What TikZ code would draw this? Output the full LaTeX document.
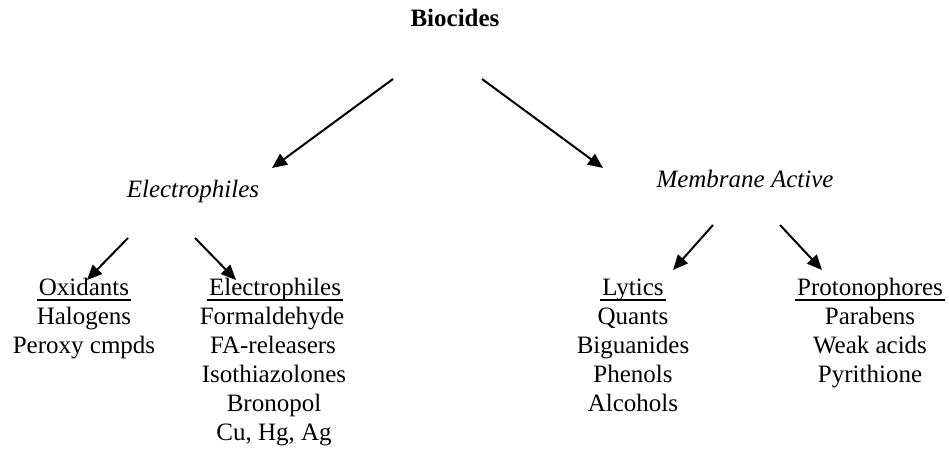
\documentclass[tikz,border=0pt]{standalone}
\usepackage{fontspec}
\setmainfont{Liberation Serif}
\usetikzlibrary{arrows.meta}
\begin{document}
\begin{tikzpicture}[x=1pt,y=-1pt,
  txt/.style={inner sep=0pt,anchor=base,font=\fontsize{25}{29}\selectfont},
  hdr/.style={txt},
  branch/.style={line width=2pt,-{Triangle[length=15pt,width=13pt]}},
  uline/.style={line width=1.6pt}]
\useasboundingbox (0,0) rectangle (949,452);

% top level
\node[txt,font=\fontsize{25}{29}\selectfont\bfseries] (bio) at (455,27) {Biocides};
\node[txt,font=\fontsize{25}{29}\selectfont\itshape] (elec) at (193,197) {Electrophiles};
\node[txt,font=\fontsize{25}{29}\selectfont\itshape] (memb) at (745,187) {Membrane Active};

% arrow ends
\coordinate (bioL) at (393,79);
\coordinate (elecT) at (272,168);
\coordinate (bioR) at (482,79);
\coordinate (membT) at (603,168);
\coordinate (elecL) at (128,238);
\coordinate (oxT) at (87,280);
\coordinate (elecR) at (195,238);
\coordinate (elT) at (236,280);
\coordinate (membL) at (713,225);
\coordinate (lyT) at (673,270);
\coordinate (membR) at (780,225);
\coordinate (prT) at (822,270);

\draw[branch] (bioL) -- (elecT);
\draw[branch] (bioR) -- (membT);
\draw[branch] (elecL) -- (oxT);
\draw[branch] (elecR) -- (elT);
\draw[branch] (membL) -- (lyT);
\draw[branch] (membR) -- (prT);

% column headers, underlined
\node[hdr] (ox) at (84,295) {Oxidants};
\node[hdr] (el) at (275,295) {Electrophiles};
\node[hdr] (ly) at (633,295) {Lytics};
\node[hdr] (pr) at (870,295) {Protonophores};
\foreach \h in {ox,el,ly,pr}
  \draw[uline] ([xshift=-2pt,yshift=-5pt]\h.base west) -- ([xshift=2pt,yshift=-5pt]\h.base east);

% column entries
\node[txt] (ox1) at (84,324) {Halogens};
\node[txt] (ox2) at (84,353) {Peroxy cmpds};

\node[txt] (el1) at (272,324) {Formaldehyde};
\node[txt] (el2) at (273,353) {FA-releasers};
\node[txt] (el3) at (274,382) {Isothiazolones};
\node[txt] (el4) at (274,411) {Bronopol};
\node[txt] (el5) at (274,440) {Cu, Hg, Ag};

\node[txt] (ly1) at (633,324) {Quants};
\node[txt] (ly2) at (633,353) {Biguanides};
\node[txt] (ly3) at (633,382) {Phenols};
\node[txt] (ly4) at (633,411) {Alcohols};

\node[txt] (pr1) at (870,324) {Parabens};
\node[txt] (pr2) at (870,353) {Weak acids};
\node[txt] (pr3) at (870,382) {Pyrithione};
\end{tikzpicture}
\end{document}
